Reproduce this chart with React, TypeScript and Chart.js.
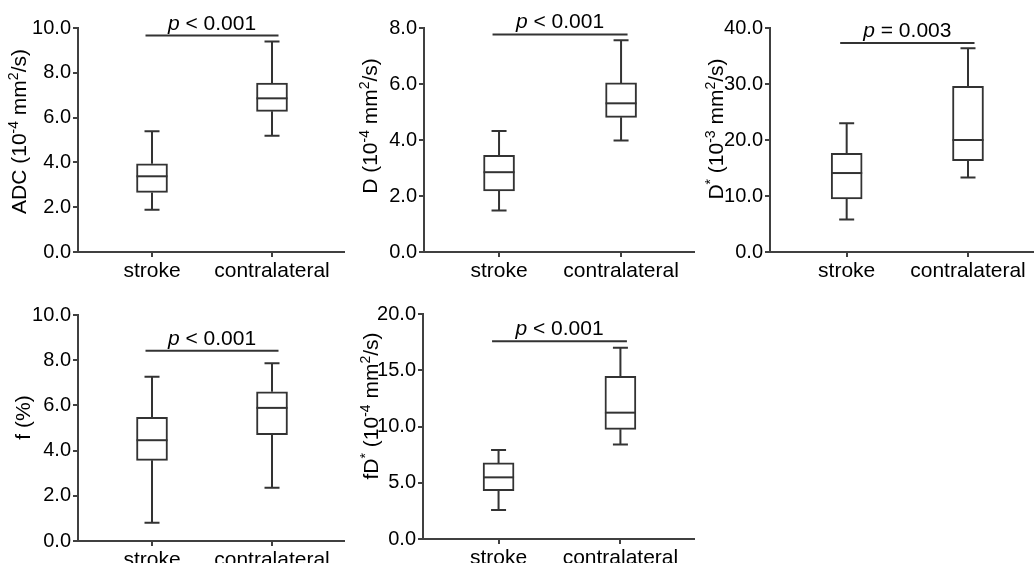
import React, { useEffect, useRef } from "react";
import { Chart, registerables } from "chart.js";

Chart.register(...registerables);

// ---------- data ----------
const categories = ["stroke", "contralateral"];

// [min, Q1, median, Q3, max]
const adcStroke = [1.89, 2.66, 3.38, 3.94, 5.39];
const adcContra = [5.19, 6.28, 6.86, 7.54, 9.4];
const dStroke = [1.48, 2.18, 2.85, 3.45, 4.32];
const dContra = [3.98, 4.81, 5.31, 6.04, 7.56];
const dStarStroke = [5.8, 9.5, 14.1, 17.6, 23.0];
const dStarContra = [13.3, 16.3, 20.0, 29.6, 36.4];
const fStroke = [0.81, 3.57, 4.46, 5.47, 7.27];
const fContra = [2.36, 4.71, 5.89, 6.6, 7.86];
const fdStarStroke = [2.58, 4.3, 5.48, 6.76, 7.91];
const fdStarContra = [8.39, 9.75, 11.23, 14.46, 17.0];

const yMaxes = [10, 8, 40, 10, 20];
const yStepSizes = [2, 2, 10, 2, 5];
const sigLevels = [9.66, 7.77, 37.3, 8.42, 17.57];
const pTexts = ["< 0.001", "< 0.001", "= 0.003", "< 0.001", "< 0.001"];

type Part = { t: string; sup?: boolean };
const adcTitle: Part[] = [{ t: "ADC (10" }, { t: "-4", sup: true }, { t: " mm" }, { t: "2", sup: true }, { t: "/s)" }];
const dTitle: Part[] = [{ t: "D (10" }, { t: "-4", sup: true }, { t: " mm" }, { t: "2", sup: true }, { t: "/s)" }];
const dStarTitle: Part[] = [{ t: "D" }, { t: "*", sup: true }, { t: " (10" }, { t: "-3", sup: true }, { t: " mm" }, { t: "2", sup: true }, { t: "/s)" }];
const fTitle: Part[] = [{ t: "f (%)" }];
const fdStarTitle: Part[] = [{ t: "fD" }, { t: "*", sup: true }, { t: " (10" }, { t: "-4", sup: true }, { t: " mm" }, { t: "2", sup: true }, { t: "/s)" }];

const panelStats = [
  [adcStroke, adcContra],
  [dStroke, dContra],
  [dStarStroke, dStarContra],
  [fStroke, fContra],
  [fdStarStroke, fdStarContra],
];
const panelTitles = [adcTitle, dTitle, dStarTitle, fTitle, fdStarTitle];

// ---------- layout / style ----------
const FONT = "'Liberation Sans', Arial, Helvetica, sans-serif";
const AXIS = "#404040";
const LINE = "#333333";

const layouts = [
  { left: 0, top: 0, w: 345, h: 290, aL: 78, aT: 28, aB: 252, xmin: 0.3833, xmax: 2.6083, tx: 25.5, ty: 131.5 },
  { left: 345, top: 0, w: 350, h: 290, aL: 79, aT: 28, aB: 252, xmin: 0.385, xmax: 2.606, tx: 31.7, ty: 126 },
  { left: 695, top: 0, w: 339, h: 290, aL: 75, aT: 28, aB: 252, xmin: 0.368, xmax: 2.544, tx: 28.3, ty: 129 },
  { left: 0, top: 290, w: 345, h: 273, aL: 78, aT: 25, aB: 251, xmin: 0.3833, xmax: 2.6083, tx: 30, ty: 127.5 },
  { left: 345, top: 290, w: 350, h: 273, aL: 78, aT: 24, aB: 249, xmin: 0.38, xmax: 2.612, tx: 33, ty: 116 },
];

function makePlugin(idx: number) {
  const stats = panelStats[idx];
  const L = layouts[idx];
  return {
    id: "boxExtras" + idx,
    beforeDatasetsDraw(chart: any) {
      const { ctx } = chart;
      const xs = chart.scales.x;
      const ys = chart.scales.y;
      ctx.save();
      ctx.strokeStyle = LINE;
      ctx.lineWidth = 2;
      stats.forEach((s, i) => {
        const x = xs.getPixelForValue(i + 1);
        const pMin = ys.getPixelForValue(s[0]);
        const pQ1 = ys.getPixelForValue(s[1]);
        const pQ3 = ys.getPixelForValue(s[3]);
        const pMax = ys.getPixelForValue(s[4]);
        ctx.beginPath();
        ctx.moveTo(x, pQ3);
        ctx.lineTo(x, pMax);
        ctx.moveTo(x, pQ1);
        ctx.lineTo(x, pMin);
        ctx.moveTo(x - 7.5, pMax);
        ctx.lineTo(x + 7.5, pMax);
        ctx.moveTo(x - 7.5, pMin);
        ctx.lineTo(x + 7.5, pMin);
        ctx.stroke();
      });
      ctx.restore();
    },
    afterDatasetsDraw(chart: any) {
      const { ctx } = chart;
      const xs = chart.scales.x;
      const ys = chart.scales.y;
      const meta = chart.getDatasetMeta(0);
      ctx.save();
      ctx.strokeStyle = LINE;
      ctx.lineWidth = 2;
      stats.forEach((s, i) => {
        const bar = meta.data[i];
        const half = bar.width / 2;
        const x = xs.getPixelForValue(i + 1);
        const pMed = ys.getPixelForValue(s[2]);
        ctx.beginPath();
        ctx.moveTo(x - half, pMed);
        ctx.lineTo(x + half, pMed);
        ctx.stroke();
      });
      // significance line
      const x1 = xs.getPixelForValue(1) - 6.5;
      const x2 = xs.getPixelForValue(2) + 6.5;
      const ySig = ys.getPixelForValue(sigLevels[idx]);
      ctx.beginPath();
      ctx.moveTo(x1, ySig);
      ctx.lineTo(x2, ySig);
      ctx.stroke();
      // p text
      const cx = (xs.getPixelForValue(1) + xs.getPixelForValue(2)) / 2;
      ctx.fillStyle = "#000";
      ctx.textBaseline = "alphabetic";
      ctx.textAlign = "left";
      ctx.font = `italic 21px ${FONT}`;
      const wp = ctx.measureText("p").width;
      ctx.font = `21px ${FONT}`;
      const rest = " " + pTexts[idx];
      const wr = ctx.measureText(rest).width;
      let sx = cx - (wp + wr) / 2;
      ctx.font = `italic 21px ${FONT}`;
      ctx.fillText("p", sx, ySig - 6);
      ctx.font = `21px ${FONT}`;
      ctx.fillText(rest, sx + wp, ySig - 6);
      ctx.restore();
    },
    afterDraw(chart: any) {
      const { ctx } = chart;
      const parts = panelTitles[idx];
      const main = `21px ${FONT}`;
      const sup = `14px ${FONT}`;
      ctx.save();
      ctx.fillStyle = "#000";
      ctx.textBaseline = "alphabetic";
      ctx.textAlign = "left";
      let total = 0;
      parts.forEach((p) => {
        ctx.font = p.sup ? sup : main;
        total += ctx.measureText(p.t).width;
      });
      ctx.translate(L.tx, L.ty);
      ctx.rotate(-Math.PI / 2);
      let x = -total / 2;
      parts.forEach((p) => {
        ctx.font = p.sup ? sup : main;
        ctx.fillText(p.t, x, p.sup ? -8 : 0);
        x += ctx.measureText(p.t).width;
      });
      ctx.restore();
    },
  };
}

function axisCommon() {
  return {
    grid: {
      display: true,
      drawOnChartArea: false,
      drawTicks: true,
      tickLength: 5,
      color: AXIS,
      lineWidth: 2,
      offset: false,
    },
    border: { display: true, color: AXIS, width: 2 },
  };
}

function Panel({ idx }: { idx: number }) {
  const ref = useRef<HTMLCanvasElement | null>(null);
  const L = layouts[idx];
  useEffect(() => {
    if (!ref.current) return;
    const stats = panelStats[idx];
    const chart = new Chart(ref.current, {
      type: "bar",
      data: {
        datasets: [
          {
            data: stats.map((s, i) => ({ x: i + 1, y: [s[1], s[3]] })) as any,
            backgroundColor: "#ffffff",
            borderColor: LINE,
            borderWidth: 2,
            borderSkipped: false,
            barThickness: 31,
          },
        ],
      },
      options: {
        animation: false,
        responsive: false,
        devicePixelRatio: 1,
        layout: { padding: { top: L.aT, left: 0, right: 0, bottom: 0 } },
        plugins: { legend: { display: false }, tooltip: { enabled: false } },
        scales: {
          x: {
            type: "linear",
            min: L.xmin,
            max: L.xmax,
            offset: false,
            afterBuildTicks: (s: any) => {
              s.ticks = categories.map((_, i) => ({ value: i + 1 }));
            },
            afterFit: (s: any) => {
              s.height = L.h - L.aB;
            },
            ticks: {
              callback: (v: any) => categories[Math.round(Number(v)) - 1] ?? "",
              font: { size: 21, family: FONT },
              color: "#000",
              padding: 2,
              maxRotation: 0,
              autoSkip: false,
            },
            ...axisCommon(),
          },
          y: {
            type: "linear",
            min: 0,
            max: yMaxes[idx],
            afterFit: (s: any) => {
              s.width = L.aL;
            },
            ticks: {
              stepSize: yStepSizes[idx],
              callback: (v: any) => Number(v).toFixed(1),
              font: { size: 20, family: FONT },
              color: "#000",
              padding: 2,
            },
            ...axisCommon(),
          },
        },
      } as any,
      plugins: [makePlugin(idx)],
    });
    return () => chart.destroy();
  }, [idx]);
  return (
    <canvas
      ref={ref}
      width={L.w}
      height={L.h}
      style={{ position: "absolute", left: L.left, top: L.top, width: L.w, height: L.h }}
    />
  );
}

export default function App() {
  return (
    <div
      style={{
        position: "fixed",
        left: 0,
        top: 0,
        width: 1034,
        height: 563,
        background: "#fff",
        overflow: "hidden",
      }}
    >
      {layouts.map((_, i) => (
        <Panel key={i} idx={i} />
      ))}
    </div>
  );
}
